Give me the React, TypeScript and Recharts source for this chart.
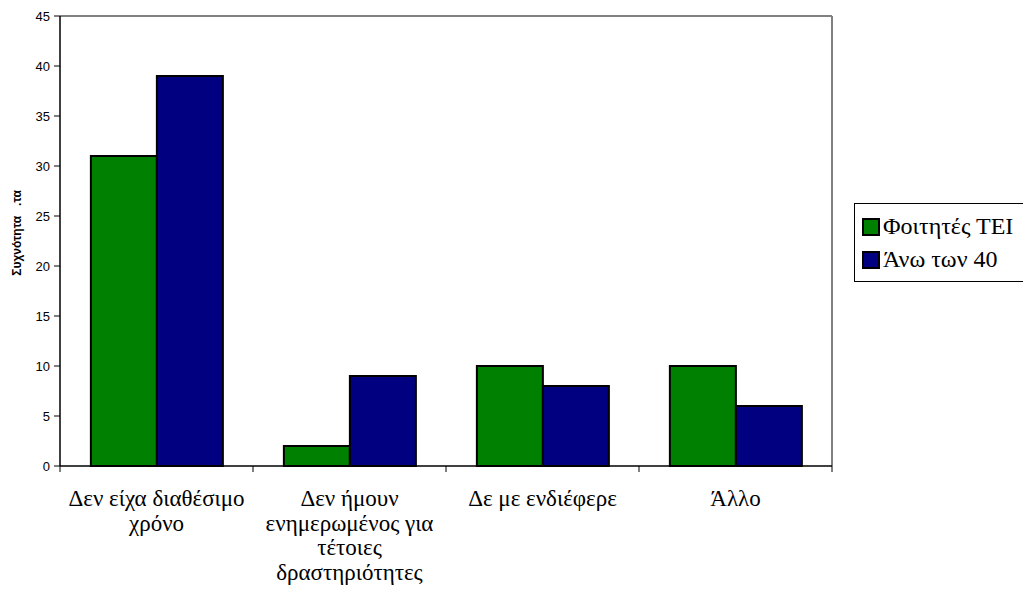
import React from "react";
import { BarChart, Bar, XAxis, YAxis, Legend, CartesianGrid } from "recharts";

const categories = [
  "Δεν είχα διαθέσιμο\nχρόνο",
  "Δεν ήμουν\nενημερωμένος για\nτέτοιες\nδραστηριότητες",
  "Δε με ενδιέφερε",
  "Άλλο",
];
const studentsTEI = [31, 2, 10, 10];
const over40 = [39, 9, 8, 6];
const yTicks = [0, 5, 10, 15, 20, 25, 30, 35, 40, 45];
const seriesNames = ["Φοιτητές ΤΕΙ", "Άνω των 40"];
const yLabel = "Συχνότητα   .τα";

const data = categories.map((c, i) => ({
  name: c,
  tei: studentsTEI[i],
  over40: over40[i],
}));

const SERIF = '"Liberation Serif", serif';
const SANS = '"Liberation Sans", Arial, sans-serif';

const CatTick = (props: any) => {
  const { x, y, payload, index, width, visibleTicksCount } = props;
  const n = visibleTicksCount || categories.length;
  const half =
    payload && typeof payload.offset === "number" && payload.offset > 0
      ? payload.offset
      : (width || 772) / n / 2;
  const lines = String(payload.value).split("\n");
  return (
    <g>
      <line x1={x - half} x2={x - half} y1={y} y2={y + 6} stroke="#000" strokeWidth={1} />
      {index === n - 1 && (
        <line x1={x + half} x2={x + half} y1={y} y2={y + 6} stroke="#000" strokeWidth={1} />
      )}
      <text textAnchor="middle" fontFamily={SERIF} fontSize={23} fill="#000">
        {lines.map((l, i) => (
          <tspan key={i} x={x} y={y + 40 + i * 24.5}>
            {l}
          </tspan>
        ))}
      </text>
    </g>
  );
};

const LegendBox = (props: any) => {
  const payload = props.payload || [];
  const ordered = seriesNames
    .map((n) => payload.find((p: any) => p.value === n))
    .filter(Boolean);
  return (
    <div
      style={{
        border: "1px solid #000",
        background: "#fff",
        padding: "6px 0 5px 7px",
        width: 200,
        boxSizing: "border-box",
      }}
    >
      {ordered.map((p: any, i: number) => (
        <div
          key={i}
          style={{
            display: "flex",
            alignItems: "center",
            height: 33,
            fontFamily: SERIF,
            fontSize: 24,
            color: "#000",
            whiteSpace: "nowrap",
          }}
        >
          <span
            style={{
              display: "inline-block",
              width: 14,
              height: 14,
              border: "2px solid #000",
              background: p.color,
              marginRight: 3,
              flexShrink: 0,
            }}
          />
          {p.value}
        </div>
      ))}
    </div>
  );
};

export default function App() {
  return (
    <div
      style={{
        position: "absolute",
        left: 0,
        top: 0,
        width: 1023,
        height: 604,
        overflow: "hidden",
        background: "#fff",
      }}
    >
      <BarChart
        width={1023}
        height={604}
        data={data}
        margin={{ top: 16, right: 191, bottom: 0, left: 0 }}
        barCategoryGap="16%"
        barGap={0}
      >
        <CartesianGrid
          stroke="#808080"
          strokeWidth={2}
          horizontalCoordinatesGenerator={({ offset }: any) => [offset.top]}
          verticalCoordinatesGenerator={({ offset }: any) => [offset.left + offset.width]}
        />
        <XAxis
          dataKey="name"
          height={138}
          tickLine={false}
          tickSize={0}
          tickMargin={0}
          axisLine={{ stroke: "#000", strokeWidth: 1.5 }}
          tick={<CatTick />}
          interval={0}
        />
        <YAxis
          domain={[0, 45]}
          ticks={yTicks}
          width={60}
          tickSize={6}
          tickMargin={4}
          axisLine={{ stroke: "#000", strokeWidth: 1.5 }}
          tickLine={{ stroke: "#000" }}
          tick={{ fontFamily: SANS, fontSize: 13, fill: "#000" }}
          label={{
            content: () => (
              <text
                x={21}
                y={233}
                transform="rotate(-90, 21, 233)"
                textAnchor="middle"
                fontFamily={SANS}
                fontSize={12}
                fontWeight="bold"
                fill="#000"
                style={{ whiteSpace: "pre" }}
              >
                {yLabel}
              </text>
            ),
          }}
        />
        <Legend
          content={<LegendBox />}
          layout="horizontal"
          verticalAlign="middle"
          align="center"
          wrapperStyle={{ position: "absolute", left: 854, top: 203, width: 200 }}
        />
        <Bar
          dataKey="tei"
          name={seriesNames[0]}
          fill="#008000"
          stroke="#000"
          strokeWidth={2}
          isAnimationActive={false}
        />
        <Bar
          dataKey="over40"
          name={seriesNames[1]}
          fill="#000080"
          stroke="#000"
          strokeWidth={2}
          isAnimationActive={false}
        />
      </BarChart>
    </div>
  );
}
